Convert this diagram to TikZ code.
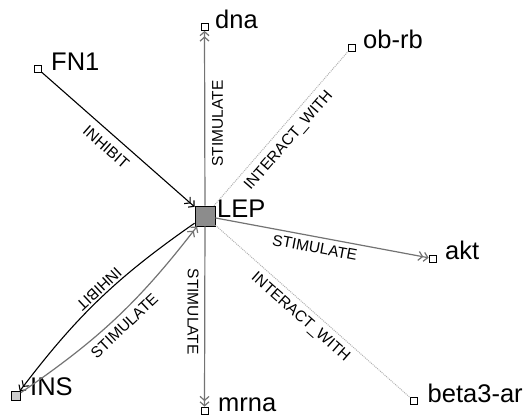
\documentclass[tikz,border=0pt]{standalone}
\usepackage{fontspec}
\setmainfont{Liberation Sans}
\usetikzlibrary{arrows.meta}
\begin{document}
\begin{tikzpicture}[x=1pt,y=-1pt,
  smallbox/.style={draw=black, fill=white, line width=0.8pt, minimum size=7pt, inner sep=0pt},
  bigbox/.style={draw=black, fill=black!45, line width=0.8pt, minimum size=20pt, inner sep=0pt},
  insbox/.style={draw=black, fill=black!20, line width=0.8pt, minimum size=9pt, inner sep=0pt},
  lab/.style={font=\fontsize{25.5}{30}\selectfont, anchor=base west, inner sep=0pt},
  elab/.style={font=\fontsize{15.5}{18}\selectfont, inner sep=0pt, text height=11pt, text depth=0pt, sloped, allow upside down, text=black},
  arrowtip/.style={-{Straight Barb[length=4pt,width=9pt] Straight Barb[length=4pt,width=9pt]}},
  inhibit/.style={black, line width=1.1pt, arrowtip},
  stim/.style={black!55, line width=1.2pt, arrowtip},
  inter/.style={black!30, line width=1pt, densely dotted},
]
\useasboundingbox (0,0) rectangle (524,415);

% nodes
\node[bigbox]   (LEP)  at (205,216) {};
\node[smallbox] (FN1)  at (38,69) {};
\node[smallbox] (dna)  at (204.5,27) {};
\node[smallbox] (obrb) at (351.5,47.5) {};
\node[smallbox] (akt)  at (432.5,258.5) {};
\node[smallbox] (beta) at (414,401) {};
\node[smallbox] (mrna) at (204.5,410.5) {};
\node[insbox]   (INS)  at (16,396) {};

% labels
\node[lab] (LEPt)  at (217,217) {LEP};
\node[lab] (FN1t)  at (51,70) {FN1};
\node[lab] (dnat)  at (215,28) {dna};
\node[lab] (obrbt) at (363,48) {ob-rb};
\node[lab] (aktt)  at (445,259) {akt};
\node[lab] (betat) at (427.5,402.5) {beta3-ar};
\node[lab] (mrnat) at (218,411) {mrna};
\node[lab] (INSt)  at (30,395) {INS};

% edges
\draw[inhibit] (FN1) -- (LEP) node[elab, pos=0.48, below=7.4pt] {INHIBIT};
\draw[stim] (LEP) -- (dna) node[elab, pos=0.47, below=6.5pt] {STIMULATE};
\draw[inter] (LEP) -- (obrb) node[elab, pos=0.48, below=6.4pt] {INTERACT\_WITH};
\draw[stim] (LEP) -- (akt) node[elab, pos=0.476, below=4.7pt] {STIMULATE};
\draw[inter] (LEP) -- (beta) node[elab, pos=0.48, below=5.3pt] {INTERACT\_WITH};
\draw[stim] (LEP) -- (mrna) node[elab, pos=0.474, below=5.5pt] {STIMULATE};
\draw[inhibit] (LEP) to[bend right=9] node[elab, pos=0.47, below=1.5pt] {INHIBIT} (INS);
\draw[stim] (INS) to[bend right=9] node[elab, pos=0.5, below=5pt] {STIMULATE} (LEP);
\end{tikzpicture}
\end{document}
